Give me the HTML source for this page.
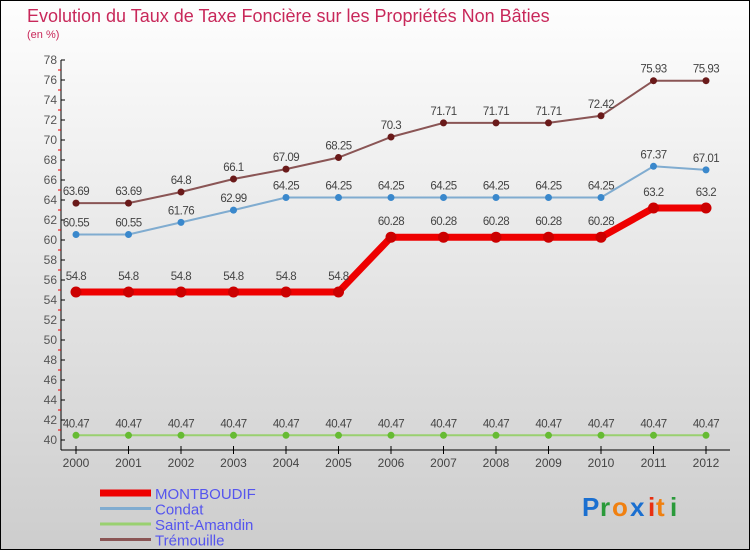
<!DOCTYPE html>
<html><head><meta charset="utf-8"><style>
body{margin:0;width:750px;height:550px;overflow:hidden}
svg{display:block;font-family:"Liberation Sans",sans-serif}
</style></head><body>
<svg width="750" height="550" xmlns="http://www.w3.org/2000/svg">
<defs><linearGradient id="bg" x1="0" y1="0" x2="0" y2="1"><stop offset="0" stop-color="#fefefe"/><stop offset="1" stop-color="#cdcdcd"/></linearGradient></defs>
<rect x="0.5" y="0.5" width="749" height="549" fill="url(#bg)" stroke="#000"/>
<text x="27" y="22" font-size="18" fill="#c8285a">Evolution du Taux de Taxe Foncière sur les Propriétés Non Bâties</text>
<text x="27" y="38" font-size="11" fill="#c8285a">(en %)</text>
<g id="axes"></g><g id="series"></g><g id="legend"></g>
<g font-size="26" font-weight="bold" font-family="'Liberation Sans',sans-serif">
<text x="582" y="516" fill="#1a6fd0">P</text><text x="600" y="516" fill="#2a9a3a">r</text><text x="612" y="516" fill="#f08010">o</text><text x="630" y="516" fill="#1a6fd0">x</text><text x="648" y="516" fill="#e83010">i</text><text x="656" y="516" fill="#f08010">t</text><text x="670" y="516" fill="#2a9a3a">i</text>
</g>
</svg>
<script>
const years=["2000","2001","2002","2003","2004","2005","2006","2007","2008","2009","2010","2011","2012"];
const montboudif=[54.8,54.8,54.8,54.8,54.8,54.8,60.28,60.28,60.28,60.28,60.28,63.2,63.2];
const condat=[60.55,60.55,61.76,62.99,64.25,64.25,64.25,64.25,64.25,64.25,64.25,67.37,67.01];
const saintAmandin=[40.47,40.47,40.47,40.47,40.47,40.47,40.47,40.47,40.47,40.47,40.47,40.47,40.47];
const tremouille=[63.69,63.69,64.8,66.1,67.09,68.25,70.3,71.71,71.71,71.71,72.42,75.93,75.93];
const yTicks=[40,42,44,46,48,50,52,54,56,58,60,62,64,66,68,70,72,74,76,78];
const NS="http://www.w3.org/2000/svg";
const X=i=>76+i*52.5, Y=v=>440-(v-40)*10;
function mk(p,t,a){const e=document.createElementNS(NS,t);for(const k in a)e.setAttribute(k,a[k]);p.appendChild(e);return e;}
const ax=document.getElementById('axes');
let l=mk(ax,'line',{x1:61,y1:Y(78),x2:61,y2:450,stroke:'#000'});


l=mk(ax,'line',{x1:61,y1:450,x2:730,y2:450,stroke:'#000'});


yTicks.forEach(v=>{
 mk(ax,'line',{x1:61,y1:Y(v),x2:65,y2:Y(v),stroke:'#000'});
 if(v<78) mk(ax,'line',{x1:58,y1:Y(v+1),x2:61,y2:Y(v+1),stroke:'#e00'});
 const t=mk(ax,'text',{x:57,y:Y(v)+4,'font-size':12,fill:'#555','text-anchor':'end'});t.textContent=v;
 
 
});
years.forEach((y,i)=>{
 mk(ax,'line',{x1:X(i),y1:446,x2:X(i),y2:454,stroke:'#000'});
 const t=mk(ax,'text',{x:X(i),y:467,'font-size':12,fill:'#444','text-anchor':'middle'});t.textContent=y;
 
 
});
const S=[
 {n:'Saint-Amandin',d:saintAmandin,c:'#99d070',pc:'#66bb33',w:2,r:3.5},
 {n:'Condat',d:condat,c:'#80acd0',pc:'#3a88cc',w:2,r:3.5},
 {n:'Trémouille',d:tremouille,c:'#8a5555',pc:'#6a1a1a',w:2,r:3.5},
 {n:'MONTBOUDIF',d:montboudif,c:'#ee0000',pc:'#cc0000',w:7,r:5.5}];
const sg=document.getElementById('series');
S.forEach(s=>{
 const g=mk(sg,'g',{});
 
 
 const pl=mk(g,'polyline',{points:s.d.map((v,i)=>X(i)+','+Y(v)).join(' '),fill:'none',stroke:s.c,'stroke-width':s.w});
 
 
 s.d.forEach((v,i)=>{
  const c=mk(g,'circle',{cx:X(i),cy:Y(v),r:s.r,fill:s.pc});
  
  
  const t=mk(g,'text',{x:X(i),y:Y(v)-(s.w>5?12:8),'font-size':11.5,fill:'#444','text-anchor':'middle','letter-spacing':'-0.5'});t.textContent=v;
  
  
 });
});
const lg=document.getElementById('legend');
[['MONTBOUDIF','#ee0000',7],['Condat','#80acd0',3],['Saint-Amandin','#99d070',3],['Trémouille','#8a5555',3]].forEach((e,i)=>{
 const y=493+i*15.5;
 const g=mk(lg,'g',{});
 
 
 mk(g,'line',{x1:100,y1:y,x2:151,y2:y,stroke:e[1],'stroke-width':e[2]});
 const t=mk(g,'text',{x:155,y:y+6,'font-size':15,fill:'#5555ee'});t.textContent=e[0];
});
</script>
</body></html>
